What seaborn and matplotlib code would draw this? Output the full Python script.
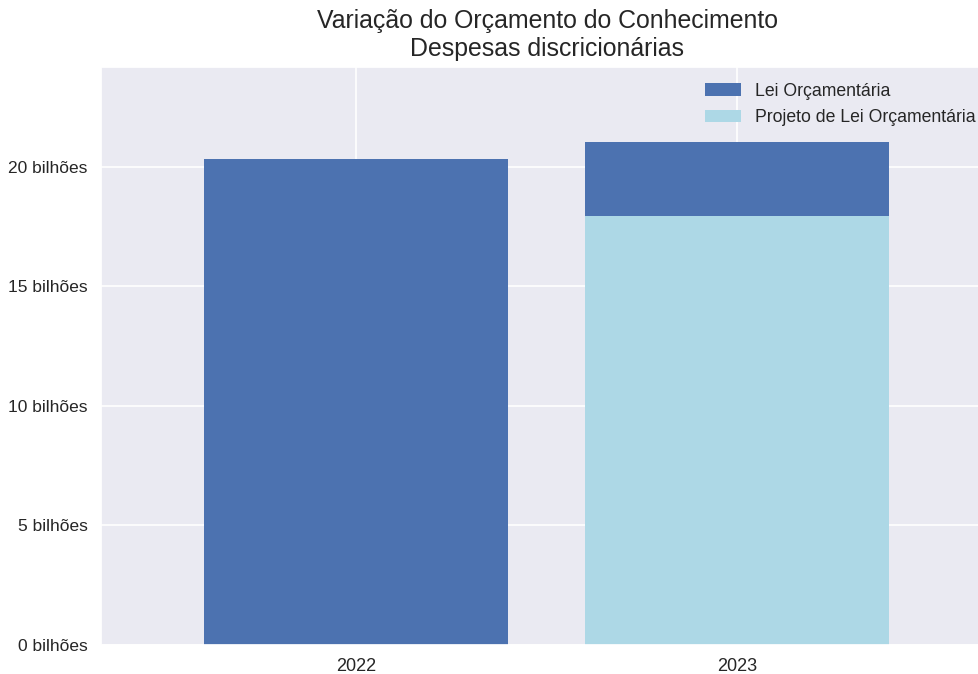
import matplotlib
matplotlib.use("Agg")
import matplotlib.pyplot as plt
import seaborn as sns
import pandas as pd
from matplotlib.ticker import FuncFormatter

years = ["2022", "2023"]
lei_orcamentaria = [20.33, 21.05]          # bilhões
projeto_lei = [None, 17.95]                # bilhões
series_names = ["Lei Orçamentária", "Projeto de Lei Orçamentária"]
colors = ["#4c72b0", "#add8e6"]
yticks = [0, 5, 10, 15, 20]

sns.set_theme(style="darkgrid")
plt.rcParams["font.family"] = ["Liberation Sans", "DejaVu Sans"]

rows = []
for y, v in zip(years, lei_orcamentaria):
    rows.append({"ano": y, "valor": v, "tipo": series_names[0]})
for y, v in zip(years, projeto_lei):
    if v is not None:
        rows.append({"ano": y, "valor": v, "tipo": series_names[1]})
df = pd.DataFrame(rows)

fig = plt.figure(figsize=(9.79, 6.74), dpi=100)
ax = fig.add_axes([101/979, 1-645/674, 1-101/979, (645-67)/674])

sns.barplot(data=df, x="ano", y="valor", hue="tipo", hue_order=series_names,
            order=years, palette=colors, dodge=False, width=0.8,
            linewidth=0, errorbar=None, ax=ax, saturation=1)

ax.set_xlim(-0.669, 1.635)
ax.set_ylim(0, 24.18)
ax.set_yticks(yticks)
ax.yaxis.set_major_formatter(FuncFormatter(lambda v, p: f"{v:.0f} bilhões"))
ax.set_xlabel("")
ax.set_ylabel("")
ax.grid(True, axis="both", color="white", linewidth=1.2)
ax.set_axisbelow(True)
ax.tick_params(axis="y", labelsize=12.5, colors="0.15")
ax.tick_params(axis="x", labelsize=13, colors="0.15")
ax.set_title("Variação do Orçamento do Conhecimento\nDespesas discricionárias",
             fontsize=17.9, color="0.15", pad=8, x=0.508)
ax.legend(loc="upper right", frameon=False, fontsize=12.7, bbox_to_anchor=(1.008, 0.991),
          borderaxespad=0.2, labelspacing=0.55)

fig.savefig("out.png", dpi=100)
